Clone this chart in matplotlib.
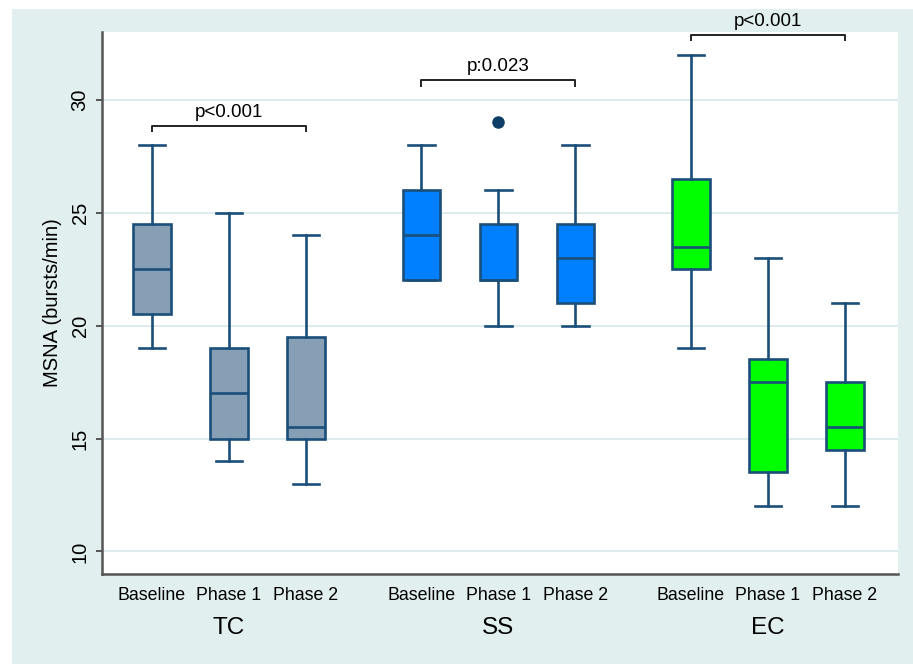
import matplotlib
matplotlib.use("Agg")
import matplotlib.pyplot as plt
from matplotlib.patches import Rectangle
from matplotlib.transforms import blended_transform_factory

plt.rcParams["font.family"] = ["Liberation Sans", "DejaVu Sans"]

# data
groups = ["TC", "SS", "EC"]
phases = ["Baseline", "Phase 1", "Phase 2"]
whislo = [19, 14, 13, 22, 20, 20, 19, 12, 12]
q1 = [20.5, 15, 15, 22, 22, 21, 22.5, 13.5, 14.5]
med = [22.5, 17, 15.5, 24, 22, 23, 23.5, 17.5, 15.5]
q3 = [24.5, 19, 19.5, 26, 24.5, 24.5, 26.5, 18.5, 17.5]
whishi = [28, 25, 24, 28, 26, 28, 32, 23, 21]
fliers = [[], [], [], [], [29], [], [], [], []]
p_labels = ["p<0.001", "p:0.023", "p<0.001"]
bracket_y = [28.85, 30.87, 32.88]

fills = {"TC": "#869FB4", "SS": "#0080FF", "EC": "#00FF00"}
edge = "#1A4F7A"
bg = "#E2EFEF"

positions = []
for g in range(len(groups)):
    for p in range(len(phases)):
        positions.append(g * 3.5 + p)

stats = []
for i in range(len(positions)):
    stats.append(dict(whislo=whislo[i], q1=q1[i], med=med[i], q3=q3[i],
                      whishi=whishi[i], fliers=fliers[i]))

fig = plt.figure(figsize=(9.13, 6.64), dpi=100, facecolor="white")
fig.patches.append(Rectangle((12 / 913, 0), 1 - 12 / 913, 1 - 9 / 664,
                             transform=fig.transFigure, facecolor=bg,
                             edgecolor="none", zorder=-10))
ax = fig.add_axes([102 / 913, 90 / 664, 796 / 913, 542 / 664])
ax.set_facecolor("white")

lw = 1.9
bp = ax.bxp(stats, positions=positions, widths=0.49, patch_artist=True,
            showcaps=True,
            boxprops=dict(edgecolor=edge, linewidth=lw),
            medianprops=dict(color=edge, linewidth=lw),
            whiskerprops=dict(color=edge, linewidth=lw),
            capprops=dict(color=edge, linewidth=lw),
            flierprops=dict(marker="o", markerfacecolor="#0E3D66",
                            markeredgecolor="#0E3D66", markersize=8))
for i, box in enumerate(bp["boxes"]):
    box.set_facecolor(fills[groups[i // 3]])
for cap in bp["caps"]:
    x = cap.get_xdata()
    c = (x[0] + x[1]) / 2
    cap.set_xdata([c - 0.17, c + 0.17])

ax.set_ylim(9, 33)
ax.set_xlim(-0.65, 9.69)
ax.set_yticks([10, 15, 20, 25, 30])
ax.yaxis.grid(True, color="#DDEDED", linewidth=1.4)
ax.set_axisbelow(True)
ax.set_xticks(positions)
ax.set_xticklabels(phases * 3, fontsize=12.8)
ax.tick_params(axis="x", length=0, pad=9)
ax.tick_params(axis="y", length=4, width=1.4, color="#555555", labelsize=14.5, pad=5)
for lab in ax.get_yticklabels():
    lab.set_rotation(90)
    lab.set_va("center")
ax.set_ylabel("MSNA (bursts/min)", fontsize=14.5, labelpad=6)

for s in ["top", "right"]:
    ax.spines[s].set_visible(False)
for s in ["left", "bottom"]:
    ax.spines[s].set_color("#555555")
    ax.spines[s].set_linewidth(1.8)

trans = blended_transform_factory(ax.transData, ax.transAxes)
for g, name in enumerate(groups):
    center = positions[g * 3 + 1]
    ax.text(center, -0.1, name, transform=trans, ha="center", va="center",
            fontsize=17.5)
    x0, x1 = positions[g * 3], positions[g * 3 + 2]
    y = bracket_y[g]
    ax.plot([x0, x0, x1, x1], [y - 0.25, y, y, y - 0.25], color="#222222",
            linewidth=1.4, clip_on=False)
    ax.text((x0 + x1) / 2, y + 0.22, p_labels[g], ha="center", va="bottom",
            fontsize=13.5, clip_on=False)

fig.savefig("out.png", dpi=100, facecolor="white")
